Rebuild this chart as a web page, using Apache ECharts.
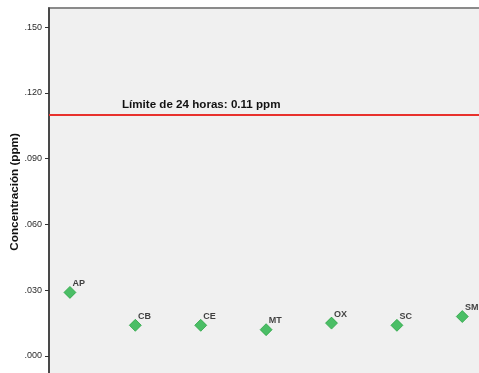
<!DOCTYPE html>
<html>
<head>
<meta charset="utf-8">
<script src="https://cdn.jsdelivr.net/npm/echarts@6/dist/echarts.min.js"></script>
<style>html,body{margin:0;padding:0;background:#fff}#c{width:479px;height:373px}</style>
</head>
<body>
<div id="c"></div>
<script>
var sites = ['AP', 'CB', 'CE', 'MT', 'OX', 'SC', 'SM'];
var values = [0.029, 0.014, 0.014, 0.012, 0.015, 0.014, 0.018];
var limitValue = 0.11;
var limitLabel = 'Límite de 24 horas: 0.11 ppm';
var yAxisName = 'Concentración (ppm)';

var chart = echarts.init(document.getElementById('c'), null, {renderer: 'canvas'});
chart.setOption({
  animation: false,
  backgroundColor: '#ffffff',
  grid: {
    left: 49, top: 8, width: 478.7, height: 413.8,
    containLabel: false, outerBoundsMode: 'none',
    show: true, backgroundColor: '#f0f0f0', borderColor: '#8a8a8a', borderWidth: 2
  },
  xAxis: {
    type: 'value', min: 0.68, max: 8, show: false
  },
  yAxis: {
    type: 'value', min: -0.03, max: 0.1587, interval: 0.03,
    name: yAxisName, nameLocation: 'middle', nameGap: 28, nameRotate: 90,
    nameMoveOverlap: false,
    nameTextStyle: {fontFamily: 'Liberation Sans', fontWeight: 'bold', fontSize: 11.7, color: '#111', padding: [0, 0, 0, 46]},
    axisLine: {show: true, lineStyle: {color: '#333', width: 1.5}},
    axisTick: {show: true, length: 4, lineStyle: {color: '#333'}},
    axisLabel: {
      fontFamily: 'Liberation Sans', fontSize: 9, color: '#2a2a2a', margin: 7,
      showMaxLabel: false,
      formatter: function (v) { return v.toFixed(3).replace(/^0/, ''); }
    },
    splitLine: {show: false}
  },
  series: [{
    type: 'scatter',
    symbol: 'diamond',
    symbolSize: 12,
    itemStyle: {color: '#22b143', borderColor: '#159a30', borderWidth: 0.8},
    data: sites.map(function (s, i) { return {name: s, value: [i + 1, values[i]]}; }),
    label: {
      show: true, position: [9, -7], formatter: '{b}',
      fontFamily: 'Liberation Sans', fontWeight: 'bold', fontSize: 9, color: '#111'
    },
    markLine: {
      symbol: 'none', silent: true,
      lineStyle: {color: '#e8312c', width: 2, type: 'solid'},
      label: {
        show: true, position: 'insideStartTop', formatter: limitLabel, distance: [73, 4],
        fontFamily: 'Liberation Sans', fontWeight: 'bold', fontSize: 11.6, color: '#111'
      },
      data: [{yAxis: limitValue}]
    }
  }]
});
</script>
</body>
</html>
